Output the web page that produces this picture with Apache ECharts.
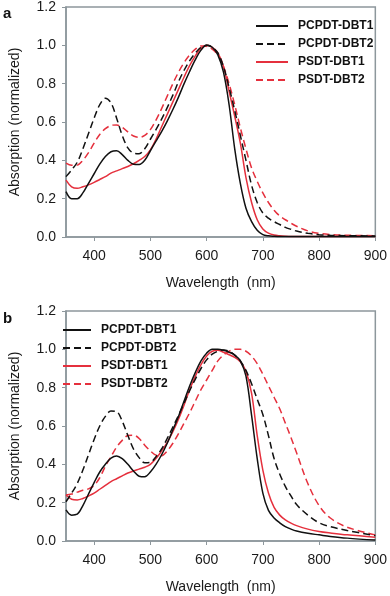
<!DOCTYPE html>
<html>
<head>
<meta charset="utf-8">
<script src="https://cdn.jsdelivr.net/npm/echarts@6/dist/echarts.min.js"></script>
<style>
html,body{margin:0;padding:0;background:#fff;}
#chart{width:390px;height:596px;}
</style>
</head>
<body>
<div id="chart"></div>
<script>
// Wavelength grid (nm)
var wavelength = [350,360,370,380,390,400,410,420,430,440,450,460,470,480,490,500,510,520,530,540,550,560,570,580,590,600,610,620,630,640,650,660,670,680,690,700,710,720,730,740,750,760,780,800,820,850,900];

// Panel a
var aPCPDT_DBT1 = [0.237,0.20,0.20,0.23,0.28,0.33,0.38,0.42,0.445,0.45,0.43,0.40,0.38,0.378,0.40,0.45,0.50,0.55,0.605,0.665,0.73,0.80,0.865,0.925,0.975,1.0,0.99,0.95,0.86,0.69,0.46,0.28,0.15,0.08,0.035,0.012,0.006,0.004,0.003,0.003,0.002,0.002,0.002,0.002,0.002,0.002,0.002];
var aPCPDT_DBT2 = [0.315,0.35,0.39,0.46,0.54,0.62,0.69,0.724,0.70,0.62,0.53,0.465,0.438,0.435,0.46,0.51,0.56,0.615,0.675,0.74,0.81,0.87,0.92,0.96,0.99,1.0,0.99,0.96,0.89,0.78,0.66,0.53,0.40,0.27,0.18,0.125,0.098,0.08,0.065,0.05,0.04,0.031,0.019,0.012,0.009,0.007,0.005];
var aPSDT_DBT1 = [0.297,0.262,0.254,0.262,0.272,0.285,0.30,0.315,0.333,0.345,0.357,0.368,0.382,0.40,0.42,0.455,0.51,0.575,0.64,0.705,0.77,0.835,0.895,0.945,0.985,1.0,0.99,0.96,0.89,0.76,0.63,0.49,0.31,0.18,0.09,0.042,0.02,0.01,0.006,0.004,0.003,0.003,0.003,0.003,0.003,0.003,0.003];
var aPSDT_DBT2 = [0.385,0.374,0.375,0.40,0.44,0.49,0.535,0.565,0.582,0.585,0.572,0.548,0.527,0.52,0.53,0.56,0.61,0.67,0.735,0.80,0.86,0.91,0.95,0.98,0.997,0.995,0.98,0.95,0.89,0.80,0.69,0.57,0.46,0.36,0.29,0.23,0.18,0.14,0.11,0.09,0.072,0.056,0.032,0.019,0.013,0.009,0.007];

// Panel b
var bPCPDT_DBT1 = [0.162,0.135,0.14,0.185,0.245,0.305,0.36,0.40,0.432,0.444,0.43,0.40,0.365,0.338,0.335,0.36,0.40,0.45,0.51,0.58,0.65,0.73,0.81,0.88,0.94,0.98,1.0,1.0,0.995,0.985,0.97,0.94,0.86,0.655,0.43,0.25,0.16,0.12,0.095,0.075,0.062,0.052,0.04,0.032,0.024,0.015,0.005];
var bPCPDT_DBT2 = [0.205,0.25,0.30,0.37,0.45,0.53,0.60,0.65,0.678,0.675,0.625,0.55,0.48,0.435,0.408,0.41,0.44,0.48,0.535,0.595,0.655,0.72,0.785,0.845,0.90,0.945,0.975,0.99,0.997,0.99,0.97,0.94,0.89,0.82,0.74,0.66,0.55,0.43,0.35,0.285,0.235,0.19,0.135,0.095,0.075,0.055,0.028];
var bPSDT_DBT1 = [0.24,0.218,0.214,0.222,0.235,0.25,0.27,0.29,0.31,0.325,0.34,0.355,0.365,0.375,0.385,0.40,0.43,0.47,0.515,0.57,0.635,0.71,0.79,0.86,0.92,0.965,0.99,0.995,0.985,0.972,0.958,0.935,0.885,0.77,0.55,0.37,0.25,0.175,0.135,0.11,0.093,0.08,0.062,0.05,0.042,0.032,0.02];
var bPSDT_DBT2 = [0.24,0.245,0.255,0.265,0.272,0.29,0.33,0.39,0.44,0.49,0.525,0.55,0.552,0.535,0.50,0.47,0.448,0.445,0.47,0.51,0.56,0.615,0.67,0.73,0.79,0.84,0.89,0.94,0.97,0.99,1.0,1.0,0.99,0.965,0.925,0.87,0.81,0.75,0.69,0.615,0.54,0.46,0.30,0.185,0.12,0.072,0.032];

var seriesNames = ['PCPDT-DBT1','PCPDT-DBT2','PSDT-DBT1','PSDT-DBT2'];
var xTicks = [400,500,600,700,800,900];

var BLACK = '#111111', RED = '#e5303d', AXIS = '#8d979c';
var styles = [
  {color: BLACK, type: 'solid'},
  {color: BLACK, type: [7,4]},
  {color: RED, type: 'solid'},
  {color: RED, type: [7,4]}
];

function pairs(vals){ return wavelength.map(function(w,i){ return [w, vals[i]]; }); }

var panelData = [
  [aPCPDT_DBT1, aPCPDT_DBT2, aPSDT_DBT1, aPSDT_DBT2],
  [bPCPDT_DBT1, bPCPDT_DBT2, bPSDT_DBT1, bPSDT_DBT2]
];

var FONT = 'Liberation Sans, Arial, sans-serif';
var tickFont = {fontFamily: FONT, fontSize: 14, color: '#1a1a1a'};

function xAxis(idx){
  return {
    type: 'value', gridIndex: idx, min: 350, max: 900,
    name: 'Wavelength  (nm)', nameLocation: 'middle', nameGap: 39,
    nameTextStyle: tickFont,
    splitLine: {show: false},
    axisLine: {show: true, lineStyle: {color: AXIS, width: 1.5}},
    axisTick: {show: true, length: 4, customValues: xTicks, lineStyle: {color: AXIS, width: 1}},
    axisLabel: {customValues: xTicks, margin: 12, fontFamily: FONT, fontSize: 14, color: '#1a1a1a'}
  };
}
function yAxis(idx){
  return {
    type: 'value', gridIndex: idx, min: 0, max: 1.2, interval: 0.2,
    name: 'Absorption (normalized)', nameLocation: 'middle', nameGap: 44,
    nameTextStyle: tickFont,
    splitLine: {show: false},
    axisLine: {show: true, lineStyle: {color: AXIS, width: 1.5}},
    axisTick: {show: true, length: 4, lineStyle: {color: AXIS, width: 1}},
    axisLabel: {margin: 10, fontFamily: FONT, fontSize: 14, color: '#1a1a1a',
      formatter: function(v){ return v.toFixed(1); }}
  };
}

var series = [];
panelData.forEach(function(arrs, p){
  arrs.forEach(function(vals, k){
    series.push({
      name: seriesNames[k], type: 'line', xAxisIndex: p, yAxisIndex: p,
      data: pairs(vals), smooth: 0.35, symbol: 'none', showSymbol: false,
      lineStyle: {color: styles[k].color, type: styles[k].type, width: 1.5},
      itemStyle: {color: styles[k].color},
      z: 10 - k
    });
  });
});

var legendText = {fontFamily: FONT, fontSize: 12, fontWeight: 'bold', color: '#111', padding: [0,0,0,5]};

var option = {
  animation: false,
  backgroundColor: '#fff',
  grid: [
    {left: 53, right: 13, top: 7, height: 230, show: true, borderColor: AXIS, borderWidth: 1.5, backgroundColor: 'transparent'},
    {left: 53, right: 13, top: 311, height: 230, show: true, borderColor: AXIS, borderWidth: 1.5, backgroundColor: 'transparent'}
  ],
  xAxis: [xAxis(0), xAxis(1)],
  yAxis: [yAxis(0), yAxis(1)],
  legend: [
    {orient: 'vertical', left: 250, top: 15, itemWidth: 32, itemHeight: 14, itemGap: 6, data: seriesNames, textStyle: legendText, selectedMode: false, itemStyle: {opacity: 0}},
    {orient: 'vertical', left: 57, top: 319, itemWidth: 28, itemHeight: 14, itemGap: 6, data: seriesNames, textStyle: legendText, selectedMode: false, itemStyle: {opacity: 0}}
  ],
  graphic: [
    {type: 'text', left: 3, top: 6, style: {text: 'a', font: 'bold 15px Liberation Sans, Arial, sans-serif', fill: '#111'}},
    {type: 'text', left: 3, top: 311, style: {text: 'b', font: 'bold 15px Liberation Sans, Arial, sans-serif', fill: '#111'}}
  ],
  series: series
};

var chart = echarts.init(document.getElementById('chart'), null, {renderer: 'canvas'});
chart.setOption(option);
</script>
</body>
</html>
